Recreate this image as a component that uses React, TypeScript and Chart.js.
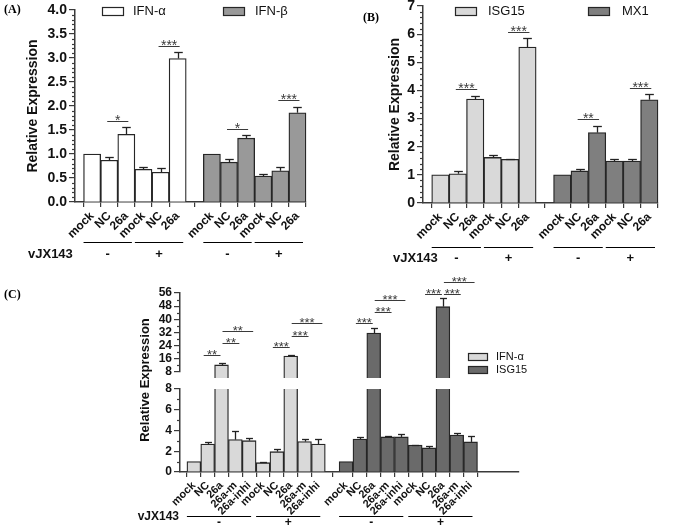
import React, { useEffect, useRef } from "react";
import { Chart, registerables } from "chart.js";

Chart.register(...registerables);

const SANS = "'Liberation Sans', Arial, Helvetica, sans-serif";
const SERIF = "'Liberation Serif', 'Times New Roman', serif";
const AXIS = "#3a3a3a";
const EDGE = "#262626";
const INK = "#111111";

Chart.defaults.font.family = SANS;

// ---------------- Panel A ----------------
const A_CATEGORIES = ["mock", "NC", "26a", "mock", "NC", "26a"];
const A_IFNA = [1.0, 0.87, 1.41, 0.68, 0.62, 2.99];
const A_IFNA_ERR = [0, 0.06, 0.15, 0.04, 0.08, 0.14];
const A_IFNB = [1.0, 0.83, 1.33, 0.54, 0.65, 1.86];
const A_IFNB_ERR = [0, 0.07, 0.07, 0.04, 0.07, 0.11];
// [series, barFrom, barTo, height, label]
const A_SIG: [number, number, number, number, string][] = [
  [0, 1, 2, 1.69, "*"],
  [0, 4, 5, 3.26, "***"],
  [1, 1, 2, 1.53, "*"],
  [1, 4, 5, 2.12, "***"],
];

// ---------------- Panel B ----------------
const B_CATEGORIES = ["mock", "NC", "26a", "mock", "NC", "26a"];
const B_ISG15 = [1.0, 1.04, 3.69, 1.62, 1.55, 5.54];
const B_ISG15_ERR = [0, 0.09, 0.11, 0.09, 0.02, 0.34];
const B_MX1 = [1.0, 1.14, 2.5, 1.49, 1.49, 3.67];
const B_MX1_ERR = [0, 0.08, 0.23, 0.07, 0.07, 0.22];
const B_SIG: [number, number, number, number, string][] = [
  [0, 1, 2, 4.04, "***"],
  [0, 4, 5, 6.09, "***"],
  [1, 1, 2, 2.97, "**"],
  [1, 4, 5, 4.08, "***"],
];

// ---------------- Panel C ----------------
const C_CATEGORIES = ["mock", "NC", "26a", "26a-m", "26a-inhi", "mock", "NC", "26a", "26a-m", "26a-inhi"];
const C_IFNA = [1.0, 2.7, 12.3, 3.12, 3.02, 0.9, 1.96, 17.7, 2.93, 2.7];
const C_IFNA_ERR = [0, 0.16, 1.2, 0.8, 0.29, 0.06, 0.26, 0.6, 0.27, 0.45];
const C_ISG15 = [1.0, 3.18, 31.7, 3.38, 3.38, 2.6, 2.32, 47.7, 3.57, 2.9];
const C_ISG15_ERR = [0, 0.2, 3.3, 0.06, 0.29, 0.03, 0.18, 5.2, 0.23, 0.6];
const C_SIG: [number, number, number, number, string][] = [
  [0, 1, 2, 18.4, "**"],
  [0, 2, 3, 25.4, "**"],
  [0, 2, 4, 32.9, "**"],
  [0, 6, 7, 23.0, "***"],
  [0, 7, 8, 30.0, "***"],
  [0, 7, 9, 37.5, "***"],
  [1, 1, 2, 37.5, "***"],
  [1, 2, 3, 44.4, "***"],
  [1, 2, 4, 52.0, "***"],
  [1, 6, 7, 55.4, "***"],
  [1, 7, 8, 55.4, "***"],
  [1, 7, 9, 62.4, "***"],
];

const VIRUS_SIGNS = ["-", "+"];
const Y_TITLE = "Relative Expression";

type Series = { label: string; values: number[]; errors: number[]; color: string };
type Spec = {
  box: { left: number; top: number; w: number; h: number };
  area: { left: number; top: number; right: number; bottom: number };
  showX: boolean;
  xMax: number;
  cats: string[];
  series: Series[];
  upperOnly?: number;
  y: { min: number; max: number; step: number; minor: number; digits: number; font: number };
  xFont: number;
  yTitle?: { size: number; pad: number };
  sig?: [number, number, number, number, string][];
  sigMode?: "ab" | "c";
  sigFont?: number;
  groups?: { size: number; lineY: number; signY: number; inset: number; font: number };
  vjx?: { x: number; y: number; align: CanvasTextAlign; font: number };
  legend?: { w: number; h: number; font: number; items: { boxX: number; boxY: number; textX: number; textY: number }[] };
  panel?: { text: string; x: number; y: number };
  extraTitle?: { x: number; y: number; size: number };
};

const pos = (d: number, i: number, n: number) => d * (n + 1) + i + 1;

function decoPlugin(spec: Spec) {
  return {
    id: "deco",
    afterDraw(chart: any) {
      const ctx: CanvasRenderingContext2D = chart.ctx;
      const xs = chart.scales.x;
      const ys = chart.scales.y;
      const n = spec.cats.length;
      const line = (x1: number, y1: number, x2: number, y2: number) => {
        ctx.beginPath();
        ctx.moveTo(x1, y1);
        ctx.lineTo(x2, y2);
        ctx.stroke();
      };
      ctx.save();
      // minor ticks on y axis
      ctx.strokeStyle = AXIS;
      ctx.lineWidth = 1.2;
      const steps = Math.round((spec.y.max - spec.y.min) / spec.y.minor);
      for (let k = 0; k <= steps; k++) {
        const v = spec.y.min + k * spec.y.minor;
        const r = (v - spec.y.min) / spec.y.step;
        if (Math.abs(r - Math.round(r)) < 1e-6) continue;
        const py = Math.round(ys.getPixelForValue(v)) + 0.5;
        line(ys.right - 3, py, ys.right, py);
      }
      // error bars
      ctx.strokeStyle = "#222";
      ctx.lineWidth = 1.3;
      chart.data.datasets.forEach((ds: any, d: number) => {
        const meta = chart.getDatasetMeta(d);
        meta.data.forEach((el: any, i: number) => {
          const pt = ds.data[i];
          const err = ds.errors[i];
          if (!err || pt.y == null || pt.y > ys.max) return;
          const y0 = ys.getPixelForValue(pt.y);
          const y1 = Math.round(ys.getPixelForValue(pt.y + err)) + 0.5;
          const x = Math.round(el.x) + 0.5;
          line(x, y0, x, y1);
          line(x - el.width * 0.25, y1, x + el.width * 0.25, y1);
        });
      });
      // significance brackets
      if (spec.sig) {
        ctx.font = `${spec.sigFont || 14}px ${SANS}`;
        ctx.fillStyle = "#3a3a3a";
        ctx.strokeStyle = "#3a3a3a";
        ctx.lineWidth = 1;
        ctx.textAlign = "center";
        ctx.textBaseline = "alphabetic";
        spec.sig.forEach(([d, i, j, yv, txt]) => {
          const ci = xs.getPixelForValue(pos(d, i, n));
          const cj = xs.getPixelForValue(pos(d, j, n));
          let x1 = ci - 2;
          let x2 = cj + 2;
          if (spec.sigMode === "c") {
            const fromPeak = spec.cats[i] === "26a";
            x1 = ci + (fromPeak ? 1 : -4);
            x2 = cj + (fromPeak ? 4 : -1);
          }
          const py = Math.round(ys.getPixelForValue(yv)) + 0.5;
          line(x1, py, x2, py);
          ctx.fillText(txt, (x1 + x2) / 2, py + 3.5);
        });
      }
      // group lines and virus signs
      if (spec.groups) {
        const g = spec.groups;
        ctx.strokeStyle = "#000";
        ctx.fillStyle = INK;
        ctx.lineWidth = 1;
        ctx.font = `bold ${g.font}px ${SANS}`;
        ctx.textAlign = "center";
        ctx.textBaseline = "middle";
        spec.series.forEach((_s, d) => {
          for (let k = 0; k * g.size < n; k++) {
            const l = xs.getPixelForValue(pos(d, k * g.size, n) - 0.5);
            const r = xs.getPixelForValue(pos(d, k * g.size + g.size - 1, n) + 0.5) - g.inset;
            line(l, g.lineY + 0.5, r, g.lineY + 0.5);
            ctx.fillText(VIRUS_SIGNS[k], (l + r) / 2, g.signY);
          }
        });
      }
      if (spec.vjx) {
        ctx.fillStyle = INK;
        ctx.font = `bold ${spec.vjx.font}px ${SANS}`;
        ctx.textAlign = spec.vjx.align;
        ctx.textBaseline = "middle";
        ctx.fillText("vJX143", spec.vjx.x, spec.vjx.y);
      }
      // legend
      if (spec.legend) {
        const lg = spec.legend;
        ctx.font = `${lg.font}px ${SANS}`;
        ctx.textAlign = "left";
        ctx.textBaseline = "middle";
        lg.items.forEach((it, k) => {
          const s = spec.series[k];
          ctx.fillStyle = s.color;
          ctx.fillRect(it.boxX, it.boxY, lg.w, lg.h);
          ctx.strokeStyle = EDGE;
          ctx.lineWidth = 1.2;
          ctx.strokeRect(it.boxX + 0.5, it.boxY + 0.5, lg.w, lg.h);
          ctx.fillStyle = INK;
          ctx.fillText(s.label, it.textX, it.textY);
        });
      }
      if (spec.panel) {
        ctx.fillStyle = "#000";
        ctx.font = `bold 12px ${SERIF}`;
        ctx.textAlign = "left";
        ctx.textBaseline = "middle";
        ctx.fillText(spec.panel.text, spec.panel.x, spec.panel.y);
      }
      if (spec.extraTitle) {
        const t = spec.extraTitle;
        ctx.save();
        ctx.translate(t.x, t.y);
        ctx.rotate(-Math.PI / 2);
        ctx.fillStyle = INK;
        ctx.font = `bold ${t.size}px ${SANS}`;
        ctx.textAlign = "center";
        ctx.textBaseline = "middle";
        ctx.fillText(Y_TITLE, 0, 0);
        ctx.restore();
      }
      ctx.restore();
    },
  };
}

function buildConfig(spec: Spec): any {
  const n = spec.cats.length;
  const tickPos: number[] = [];
  const tickLab: string[] = [];
  spec.series.forEach((_s, d) =>
    spec.cats.forEach((c, i) => {
      tickPos.push(pos(d, i, n));
      tickLab.push(c);
    })
  );
  const datasets = spec.series.map((s, d) => ({
    label: s.label,
    data: s.values.map((v, i) => ({
      x: pos(d, i, n),
      y: spec.upperOnly != null && v <= spec.upperOnly ? null : v,
    })),
    errors: s.errors,
    backgroundColor: s.color,
    borderColor: EDGE,
    borderWidth: 1.3,
    borderSkipped: "start",
    grouped: false,
    barPercentage: 1,
    categoryPercentage: 1,
    clip: { left: 6, right: 6, top: 0, bottom: 6 },
  }));
  const { box, area } = spec;
  return {
    type: "bar",
    data: { datasets },
    options: {
      animation: false,
      responsive: false,
      events: [],
      layout: {
        padding: {
          left: 0,
          top: area.top,
          right: box.w - area.right,
          bottom: spec.showX ? 0 : box.h - area.bottom,
        },
      },
      plugins: { legend: { display: false }, tooltip: { enabled: false }, title: { display: false } },
      scales: {
        x: {
          type: "linear",
          display: spec.showX,
          min: 0,
          max: spec.xMax,
          offset: false,
          grid: { drawOnChartArea: false, drawTicks: true, tickLength: 5, color: AXIS, lineWidth: 1.2 },
          border: { display: true, color: AXIS, width: 1.5 },
          ticks: {
            autoSkip: false,
            minRotation: 45,
            maxRotation: 45,
            padding: 2,
            color: INK,
            font: { family: SANS, weight: "bold", size: spec.xFont },
            callback: (_v: any, idx: number) => tickLab[idx] ?? "",
          },
          afterBuildTicks: (s: any) => {
            s.ticks = tickPos.map((v) => ({ value: v }));
          },
          afterFit: (s: any) => {
            s.height = box.h - area.bottom;
            s.paddingLeft = 0;
            s.paddingRight = 0;
          },
        },
        y: {
          type: "linear",
          min: spec.y.min,
          max: spec.y.max,
          grid: { drawOnChartArea: false, drawTicks: true, tickLength: 6, color: AXIS, lineWidth: 1.2 },
          border: { display: true, color: AXIS, width: 1.5 },
          ticks: {
            stepSize: spec.y.step,
            autoSkip: false,
            padding: 2,
            color: INK,
            font: { family: SANS, weight: "bold", size: spec.y.font },
            callback: (v: any) => Number(v).toFixed(spec.y.digits),
          },
          title: spec.yTitle
            ? {
                display: true,
                text: Y_TITLE,
                color: INK,
                font: { family: SANS, weight: "bold", size: spec.yTitle.size },
                padding: { top: spec.yTitle.pad, bottom: 0 },
              }
            : { display: false },
          afterFit: (s: any) => {
            s.width = area.left;
            s.paddingTop = 0;
            s.paddingBottom = 0;
          },
        },
      },
    },
    plugins: [decoPlugin(spec)],
  };
}

const SPEC_A: Spec = {
  box: { left: 0, top: 0, w: 340, h: 270 },
  area: { left: 75, top: 10, right: 306, bottom: 202 },
  showX: true,
  xMax: 13.5,
  cats: A_CATEGORIES,
  series: [
    { label: "IFN-α", values: A_IFNA, errors: A_IFNA_ERR, color: "#ffffff" },
    { label: "IFN-β", values: A_IFNB, errors: A_IFNB_ERR, color: "#999999" },
  ],
  y: { min: 0, max: 4, step: 0.5, minor: 0.1, digits: 1, font: 14 },
  xFont: 12,
  yTitle: { size: 14, pad: 25 },
  sig: A_SIG,
  sigMode: "ab",
  groups: { size: 3, lineY: 242, signY: 254, inset: 3, font: 13 },
  vjx: { x: 28, y: 254, align: "left", font: 13 },
  legend: {
    w: 21,
    h: 8,
    font: 13,
    items: [
      { boxX: 102, boxY: 7, textX: 133, textY: 11.5 },
      { boxX: 223, boxY: 7, textX: 255, textY: 11.5 },
    ],
  },
  panel: { text: "(A)", x: 4, y: 10 },
};

const SPEC_B: Spec = {
  box: { left: 340, top: 0, w: 338, h: 270 },
  area: { left: 83, top: 6, right: 318, bottom: 203 },
  showX: true,
  xMax: 13.5,
  cats: B_CATEGORIES,
  series: [
    { label: "ISG15", values: B_ISG15, errors: B_ISG15_ERR, color: "#d9d9d9" },
    { label: "MX1", values: B_MX1, errors: B_MX1_ERR, color: "#7f7f7f" },
  ],
  y: { min: 0, max: 7, step: 1, minor: 0.2, digits: 0, font: 14 },
  xFont: 12,
  yTitle: { size: 14, pad: 47 },
  sig: B_SIG,
  sigMode: "ab",
  groups: { size: 3, lineY: 247, signY: 258, inset: 3, font: 13 },
  vjx: { x: 53, y: 258, align: "left", font: 13 },
  legend: {
    w: 21,
    h: 8,
    font: 13,
    items: [
      { boxX: 115, boxY: 7, textX: 148, textY: 11.5 },
      { boxX: 248, boxY: 7, textX: 282, textY: 11.5 },
    ],
  },
  panel: { text: "(B)", x: 23, y: 18 },
};

const C_SERIES: Series[] = [
  { label: "IFN-α", values: C_IFNA, errors: C_IFNA_ERR, color: "#d9d9d9" },
  { label: "ISG15", values: C_ISG15, errors: C_ISG15_ERR, color: "#6a6a6a" },
];

const SPEC_C_UPPER: Spec = {
  box: { left: 0, top: 270, w: 678, h: 110 },
  area: { left: 180, top: 23, right: 519, bottom: 106 },
  showX: false,
  xMax: 24.5,
  cats: C_CATEGORIES,
  series: C_SERIES,
  upperOnly: 8,
  y: { min: 8, max: 56, step: 8, minor: 4, digits: 0, font: 12 },
  xFont: 11,
  sig: C_SIG,
  sigMode: "c",
  sigFont: 13,
  panel: { text: "(C)", x: 4, y: 25 },
};

const SPEC_C_LOWER: Spec = {
  box: { left: 0, top: 300, w: 678, h: 227 },
  area: { left: 180, top: 89, right: 519, bottom: 172 },
  showX: true,
  xMax: 24.5,
  cats: C_CATEGORIES,
  series: C_SERIES,
  y: { min: 0, max: 8, step: 2, minor: 1, digits: 0, font: 12 },
  xFont: 11,
  groups: { size: 5, lineY: 216, signY: 223, inset: 5, font: 12 },
  vjx: { x: 179, y: 217, align: "right", font: 12 },
  legend: {
    w: 19,
    h: 7,
    font: 11,
    items: [
      { boxX: 468, boxY: 53, textX: 496, textY: 57 },
      { boxX: 468, boxY: 66, textX: 496, textY: 70 },
    ],
  },
  extraTitle: { x: 145, y: 80, size: 13 },
};

function PanelChart({ spec }: { spec: Spec }) {
  const ref = useRef<HTMLCanvasElement>(null);
  useEffect(() => {
    if (!ref.current) return;
    const chart = new Chart(ref.current, buildConfig(spec));
    return () => chart.destroy();
  }, [spec]);
  return (
    <canvas
      ref={ref}
      width={spec.box.w}
      height={spec.box.h}
      style={{
        position: "absolute",
        left: spec.box.left,
        top: spec.box.top,
        width: spec.box.w,
        height: spec.box.h,
      }}
    />
  );
}

export default function App() {
  return (
    <div
      style={{
        position: "fixed",
        left: 0,
        top: 0,
        width: 678,
        height: 527,
        background: "#ffffff",
        overflow: "hidden",
      }}
    >
      <PanelChart spec={SPEC_A} />
      <PanelChart spec={SPEC_B} />
      <PanelChart spec={SPEC_C_UPPER} />
      <PanelChart spec={SPEC_C_LOWER} />
    </div>
  );
}
